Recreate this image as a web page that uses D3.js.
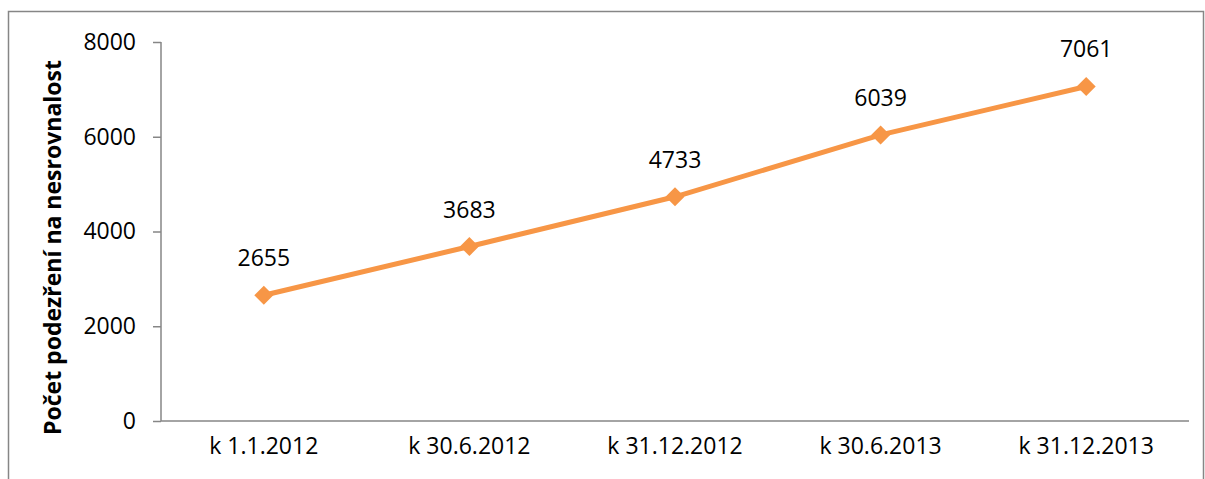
<!DOCTYPE html>
<html>
<head>
<meta charset="utf-8">
<script src="https://cdn.jsdelivr.net/npm/d3@7"></script>
<style>
  body { margin: 0; background: #fff; }
  svg text { font-family: "Open Sans", "DejaVu Sans", sans-serif; fill: #000; }
</style>
</head>
<body>
<svg id="chart" width="1205" height="479"></svg>
<script>
var categories = ["k 1.1.2012", "k 30.6.2012", "k 31.12.2012", "k 30.6.2013", "k 31.12.2013"];
var values = [2655, 3683, 4733, 6039, 7061];
var yTicks = [0, 2000, 4000, 6000, 8000];
var yTitle = "Počet podezření na nesrovnalost";

var svg = d3.select("#chart");

// outer frame
svg.append("rect")
    .attr("x", 8.5).attr("y", 11.5)
    .attr("width", 1195).attr("height", 480)
    .attr("fill", "none")
    .attr("stroke", "#868686")
    .attr("stroke-width", 1.5);

var plotLeft = 161, plotRight = 1189, plotTop = 42, plotBottom = 421;

var x = d3.scaleBand().domain(categories).range([plotLeft, plotRight]);
var y = d3.scaleLinear().domain([0, 8000]).range([plotBottom, plotTop]);

// y axis
var yAxis = svg.append("g")
    .attr("transform", "translate(" + plotLeft + ",0)")
    .call(d3.axisLeft(y).tickValues(yTicks).tickSize(8).tickPadding(17).tickFormat(d3.format("d")));
yAxis.selectAll("path, line").attr("stroke", "#868686").attr("stroke-width", 1.5);
yAxis.select(".domain").attr("d", "M0," + plotTop + "V" + plotBottom);
yAxis.selectAll("text").style("font-size", "23px").attr("fill", "#000");

// x axis
var xAxis = svg.append("g")
    .attr("transform", "translate(0," + plotBottom + ")")
    .call(d3.axisBottom(x).tickSize(0).tickPadding(17));
xAxis.select(".domain").attr("stroke", "#868686").attr("stroke-width", 1.5)
    .attr("d", "M" + plotLeft + ",0H" + plotRight);
xAxis.selectAll("text").style("font-size", "23px").attr("fill", "#000");

// y title
svg.append("text")
    .attr("transform", "translate(61," + ((plotTop + plotBottom) / 2 + 16) + ") rotate(-90)")
    .attr("text-anchor", "middle")
    .style("font-size", "23px")
    .style("font-weight", "bold")
    .text(yTitle);

var cx = function (d, i) { return x(categories[i]) + x.bandwidth() / 2; };

// line
svg.append("path")
    .datum(values)
    .attr("fill", "none")
    .attr("stroke", "#F79646")
    .attr("stroke-width", 5)
    .attr("stroke-linejoin", "round")
    .attr("d", d3.line().x(cx).y(function (d) { return y(d); }));

// markers
svg.selectAll(".marker")
    .data(values)
    .enter().append("path")
    .attr("class", "marker")
    .attr("transform", function (d, i) { return "translate(" + cx(d, i) + "," + y(d) + ")"; })
    .attr("d", d3.symbol().type(d3.symbolDiamond2).size(230))
    .attr("fill", "#F79646");

// data labels
svg.selectAll(".lbl")
    .data(values)
    .enter().append("text")
    .attr("class", "lbl")
    .attr("x", cx)
    .attr("y", function (d) { return y(d) - 29; })
    .attr("text-anchor", "middle")
    .style("font-size", "23px")
    .text(function (d) { return d; });
</script>
</body>
</html>
